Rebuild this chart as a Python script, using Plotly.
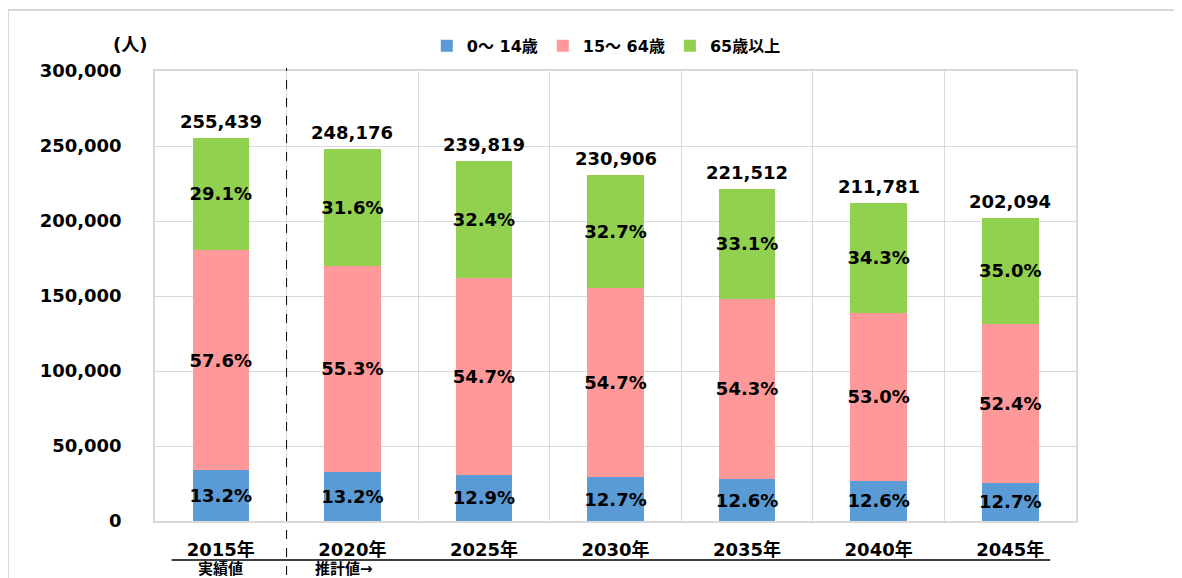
import plotly.graph_objects as go

years = ["2015年", "2020年", "2025年", "2030年", "2035年", "2040年", "2045年"]
totals = [255439, 248176, 239819, 230906, 221512, 211781, 202094]
age_0_14 = [33718, 32759, 30937, 29325, 27911, 26684, 25666]
age_15_64 = [147133, 137241, 131181, 126306, 120281, 112244, 105897]
age_65_plus = [74588, 78176, 77701, 75275, 73320, 72853, 70531]
pct_0_14 = ["13.2%", "13.2%", "12.9%", "12.7%", "12.6%", "12.6%", "12.7%"]
pct_15_64 = ["57.6%", "55.3%", "54.7%", "54.7%", "54.3%", "53.0%", "52.4%"]
pct_65_plus = ["29.1%", "31.6%", "32.4%", "32.7%", "33.1%", "34.3%", "35.0%"]
series_names = ["0～ 14歳", "15～ 64歳", "65歳以上"]
y_ticks = [0, 50000, 100000, 150000, 200000, 250000, 300000]

FONT = "DejaVu Sans, Noto Sans CJK JP"
colors = ["#5b9bd5", "#ff9999", "#92d050"]

fig = go.Figure()
for name, vals, pcts, col in zip(series_names, [age_0_14, age_15_64, age_65_plus],
                                 [pct_0_14, pct_15_64, pct_65_plus], colors):
    fig.add_trace(go.Bar(
        x=years, y=vals, name=name, marker=dict(color=col, line=dict(width=0)),
        text=["<b>%s</b>" % p for p in pcts], textposition="inside",
        insidetextanchor="middle", textangle=0, constraintext="none",
        textfont=dict(family=FONT, size=18, color="#000000"),
        hoverinfo="skip",
    ))

for yr, t in zip(years, totals):
    fig.add_annotation(x=yr, y=t, text="<b>{:,}</b>".format(t), showarrow=False,
                       yanchor="bottom", yshift=4,
                       font=dict(family=FONT, size=18, color="#000000"))

fig.add_annotation(xref="paper", yref="paper", x=-0.027, y=1.058, text="<b>(人)</b>",
                   xanchor="center", yanchor="middle",
                   showarrow=False, font=dict(family=FONT, size=18, color="#000000"))
fig.add_annotation(xref="x", yref="paper", x=years[0], y=-0.107, text="<b>実績値</b>",
                   xanchor="center", yanchor="middle",
                   showarrow=False, font=dict(family=FONT, size=15, color="#000000"))
fig.add_annotation(xref="paper", yref="paper", x=(313 - 155) / 921, xanchor="left", y=-0.107,
                   yanchor="middle", text="<b>推計値→</b>", showarrow=False,
                   font=dict(family=FONT, size=15, color="#000000"))

# outer frame
fig.add_shape(type="rect", xref="paper", yref="paper", x0=-0.1596, x1=1.3, y0=-0.3, y1=1.1356,
              line=dict(color="#d9d9d9", width=2), layer="below")
# dashed separator
fig.add_shape(type="line", xref="x", yref="paper", x0=0.5, x1=0.5, y0=-0.2, y1=1.0067,
              line=dict(color="#000000", width=1, dash="dash"))
# underline below category labels
fig.add_shape(type="line", xref="paper", yref="paper", x0=0.018, x1=0.972, y0=-0.0867, y1=-0.0867,
              line=dict(color="#000000", width=1.5))

fig.update_layout(
    width=1182, height=578,
    margin=dict(l=147, r=114, t=63, b=65, autoexpand=False),
    barmode="stack", bargap=0.57,
    plot_bgcolor="white", paper_bgcolor="white",
    font=dict(family=FONT, color="#000000"),
    showlegend=True,
    legend=dict(orientation="h", x=0.49, xanchor="center", y=1.056, yanchor="middle",
                traceorder="normal",
                font=dict(family=FONT, size=16, color="#000000", weight="bold"),
                itemwidth=30, tracegroupgap=0),
    xaxis=dict(type="category", tickson="boundaries", showgrid=True, gridcolor="#d9d9d9",
               gridwidth=1, showline=True, linecolor="#d9d9d9", linewidth=1.5, mirror=True,
               ticks="", ticklabelstandoff=12,
               tickfont=dict(family=FONT, size=18, color="#000000", weight="bold")),
    yaxis=dict(range=[0, 300000], tickvals=y_ticks, tickformat=",d", showgrid=True,
               gridcolor="#d9d9d9", gridwidth=1, showline=True, linecolor="#d9d9d9",
               linewidth=1.5, mirror=True, ticks="", ticklabelstandoff=28, zeroline=False,
               tickfont=dict(family=FONT, size=18, color="#000000", weight="bold")),
)

fig.write_html("out.html")
